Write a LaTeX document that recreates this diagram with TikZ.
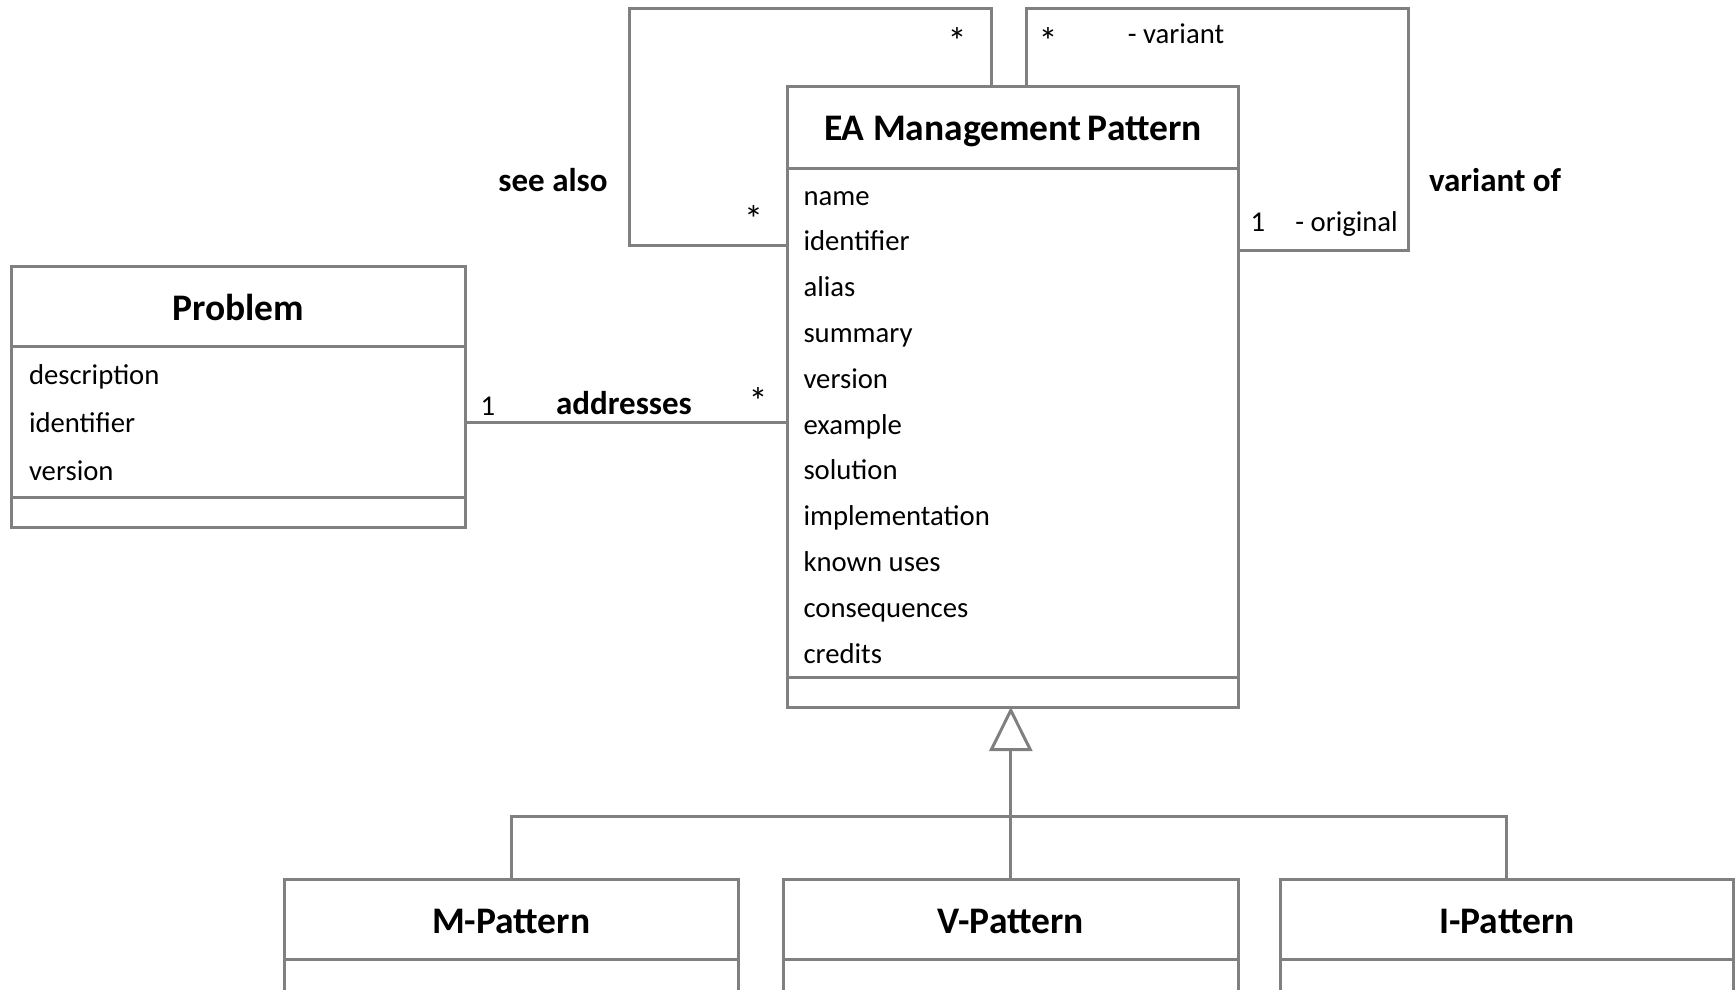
\documentclass[tikz,border=0pt]{standalone}
\usepackage{fontspec}
\setmainfont{Carlito}
\usetikzlibrary{arrows.meta}
\definecolor{lc}{RGB}{128,128,128}
\begin{document}
\begin{tikzpicture}[x=1pt,y=-1pt,
  cbox/.style={draw=lc, line width=3pt, rectangle, inner sep=0pt, outer sep=0pt, anchor=north west},
  conn/.style={draw=lc, line width=3pt},
  ttl/.style={font=\bfseries\fontsize{37.5}{40}\selectfont, inner sep=0pt},
  attr/.style={font=\fontsize{28.7}{30}\selectfont, anchor=base west, inner sep=0pt},
  mult/.style={font=\fontsize{28.7}{30}\selectfont, anchor=base, inner sep=0pt},
  star/.style={font=\fontsize{38}{40}\selectfont, anchor=base, inner sep=0pt},
  alab/.style={font=\bfseries\fontsize{33}{36}\selectfont, anchor=base, inner sep=0pt}]
\useasboundingbox (0,0) rectangle (1735,989);
\clip (0,0) rectangle (1735,989);
% EA Management Pattern
\node[cbox, minimum width=450.4pt, minimum height=81.9pt] (eaT) at (787.8,86.3) {};
\node[cbox, minimum width=450.4pt, minimum height=509pt] (eaA) at (787.8,168.2) {};
\node[cbox, minimum width=450.4pt, minimum height=29.8pt] (eaO) at (787.8,677.2) {};
\node[ttl, yshift=-4pt] (eaTt) at (eaT.center) {EA Management\hspace{-2pt} Pattern};
\foreach \t [count=\i from 0] in {name,identifier,alias,summary,version,example,solution,implementation,known uses,consequences,credits}
  \node[attr] (ea\i) at (803.3,{205+45.8*\i}) {\t};
% Problem
\node[cbox, minimum width=454.8pt, minimum height=79.6pt] (pT) at (11,266.7) {};
\node[cbox, minimum width=454.8pt, minimum height=151.6pt] (pA) at (11,346.3) {};
\node[cbox, minimum width=454.8pt, minimum height=29.9pt] (pO) at (11,497.9) {};
\node[ttl, yshift=-1pt] (pTt) at (pT.center) {Problem};
\node[attr] (p0) at (28.8,384.5) {description};
\node[attr] (p1) at (28.8,432.8) {identifier};
\node[attr] (p2) at (28.8,480.9) {version};
% sub patterns
\node[cbox, minimum width=453.6pt, minimum height=79.6pt] (mT) at (284.4,879.7) {};
\node[cbox, minimum width=453.6pt, minimum height=60pt] (mO) at (284.4,959.3) {};
\node[ttl, yshift=-2pt] (mTt) at (mT.center) {M-Pattern};
\node[cbox, minimum width=454.8pt, minimum height=79.6pt] (vT) at (783.4,879.7) {};
\node[cbox, minimum width=454.8pt, minimum height=60pt] (vO) at (783.4,959.3) {};
\node[ttl, yshift=-2pt] (vTt) at (vT.center) {V-Pattern};
\node[cbox, minimum width=453pt, minimum height=79.6pt] (iT) at (1280.3,879.7) {};
\node[cbox, minimum width=453pt, minimum height=60pt] (iO) at (1280.3,959.3) {};
\node[ttl, yshift=-2pt] (iTt) at (iT.center) {I-Pattern};
% see also
\coordinate (sa1) at (991.4,8.9);
\coordinate (sa2) at (629.6,245.6);
\draw[conn] (eaT.north -| sa1) -- (sa1) -| (sa2) -- (sa2 -| eaA.west);
\node[star] (sam1) at (957,54) {*};
\node[star] (sam2) at (753.5,232) {*};
\node[alab] (sal) at (553,191) {see also};
% variant of
\coordinate (va1) at (1026.8,8.9);
\coordinate (va2) at (1408.6,250);
\draw[conn] (eaT.north -| va1) -- (va1) -| (va2) -- (va2 -| eaA.east);
\node[star] (vam1) at (1048,54) {*};
\node[mult] (var) at (1176,43.5) {- variant};
\node[mult] (vam2) at (1258,231.3) {1};
\node[mult] (vor) at (1346.6,231.3) {- original};
\node[alab] (val) at (1495,191) {variant of};
% addresses
\draw[conn] (pA.east) -- (pA.east -| eaA.west);
\node[mult] (adm1) at (488,415) {1};
\node[alab] (adl) at (624,414) {addresses};
\node[star] (adm2) at (758,414) {*};
% generalization
\coordinate (bus) at (0,816.6);
\draw[conn] (mT.north) -- (mT.north |- bus) -- (iT.north |- bus) -- (iT.north);
\draw[conn, -{Triangle[open, length=44pt, width=43pt, line width=3pt]}] (vT.north) -- (vT.north |- eaO.south);
\end{tikzpicture}
\end{document}
